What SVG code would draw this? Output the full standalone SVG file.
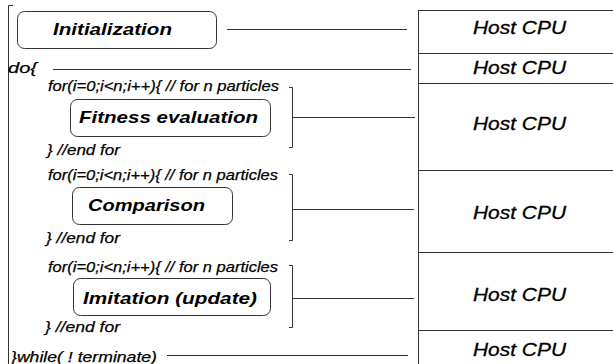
<svg xmlns="http://www.w3.org/2000/svg" width="613" height="364" viewBox="0 0 613 364">
<style>
  .box { fill: #ffffff; stroke: #333333; stroke-width: 1; }
  .ln { fill: none; stroke: #333333; stroke-width: 1; }
  .title { font-family: "Liberation Sans", Arial, sans-serif; font-size: 17px; font-weight: bold; font-style: italic; fill: #000; }
  .code { font-family: "Liberation Sans", Arial, sans-serif; font-size: 15px; font-style: italic; fill: #000; stroke: #000; stroke-width: 0.25; }
  .cpu { font-family: "Liberation Sans", Arial, sans-serif; font-size: 18.5px; font-style: italic; fill: #000; stroke: #000; stroke-width: 0.3; }
</style>
<rect x="0" y="0" width="613" height="364" fill="#ffffff"/>

<g id="outer-bracket">
  <path class="ln" d="M13 5.5 H8.5 V364"/>
</g>

<g id="initialization">
  <rect class="box" x="17.5" y="11.5" width="199" height="37" rx="7"/>
  <text class="title" x="53" y="35" textLength="119" lengthAdjust="spacingAndGlyphs">Initialization</text>
</g>

<g id="do-label">
  <text class="code" x="8" y="73" textLength="29" lengthAdjust="spacingAndGlyphs">do{</text>
</g>

<g id="loop1">
  <text class="code" x="48" y="91" textLength="231" lengthAdjust="spacingAndGlyphs">for(i=0;i&lt;n;i++){ // for n particles</text>
  <g id="fitness-evaluation">
    <rect class="box" x="70.5" y="99.5" width="200" height="37" rx="7"/>
    <text class="title" x="79" y="123" textLength="179" lengthAdjust="spacingAndGlyphs">Fitness evaluation</text>
  </g>
  <text class="code" x="47" y="155" textLength="73" lengthAdjust="spacingAndGlyphs">} //end for</text>
  <path class="ln" d="M289 87.5 H292.5 V147.5 H289"/>
</g>

<g id="loop2">
  <text class="code" x="48" y="180" textLength="230" lengthAdjust="spacingAndGlyphs">for(i=0;i&lt;n;i++){ // for n particles</text>
  <g id="comparison">
    <rect class="box" x="72.5" y="187.5" width="160" height="37" rx="7"/>
    <text class="title" x="88" y="211" textLength="117" lengthAdjust="spacingAndGlyphs">Comparison</text>
  </g>
  <text class="code" x="46" y="243" textLength="74" lengthAdjust="spacingAndGlyphs">} //end for</text>
  <path class="ln" d="M289 174.5 H292.5 V240.5 H289"/>
</g>

<g id="loop3">
  <text class="code" x="48" y="272" textLength="230" lengthAdjust="spacingAndGlyphs">for(i=0;i&lt;n;i++){ // for n particles</text>
  <g id="imitation-update">
    <rect class="box" x="73.5" y="278.5" width="197" height="37" rx="7"/>
    <text class="title" x="83" y="304" textLength="174" lengthAdjust="spacingAndGlyphs">Imitation (update)</text>
  </g>
  <text class="code" x="45" y="332" textLength="75" lengthAdjust="spacingAndGlyphs">} //end for</text>
  <path class="ln" d="M289 265.5 H292.5 V327.5 H289"/>
</g>

<g id="while-label">
  <text class="code" x="11" y="362" textLength="146" lengthAdjust="spacingAndGlyphs">}while( ! terminate)</text>
</g>

<g id="host-cpu-table">
  <path class="ln" d="M418.5 10 V364"/>
  <path class="ln" d="M418 10.5 H613 M418 53.5 H613 M418 83.5 H613 M418 170.5 H613 M418 252.5 H613 M418 330.5 H613"/>
  <g id="cpu1"><text class="cpu" x="473" y="34" textLength="93" lengthAdjust="spacingAndGlyphs">Host CPU</text></g>
  <g id="cpu2"><text class="cpu" x="473" y="74" textLength="93" lengthAdjust="spacingAndGlyphs">Host CPU</text></g>
  <g id="cpu3"><text class="cpu" x="473" y="130" textLength="93" lengthAdjust="spacingAndGlyphs">Host CPU</text></g>
  <g id="cpu4"><text class="cpu" x="473" y="219" textLength="93" lengthAdjust="spacingAndGlyphs">Host CPU</text></g>
  <g id="cpu5"><text class="cpu" x="473" y="301" textLength="93" lengthAdjust="spacingAndGlyphs">Host CPU</text></g>
  <g id="cpu6"><text class="cpu" x="473" y="356" textLength="93" lengthAdjust="spacingAndGlyphs">Host CPU</text></g>
</g>

<g id="connectors">
  <line class="ln" x1="227" y1="29.5" x2="407" y2="29.5"/>
  <line class="ln" x1="53" y1="69.5" x2="411" y2="69.5"/>
  <line class="ln" x1="293" y1="117.5" x2="415" y2="117.5"/>
  <line class="ln" x1="293" y1="209.5" x2="414" y2="209.5"/>
  <line class="ln" x1="293" y1="298.5" x2="414" y2="298.5"/>
  <line class="ln" x1="167" y1="355.5" x2="408" y2="355.5"/>
</g>
</svg>
